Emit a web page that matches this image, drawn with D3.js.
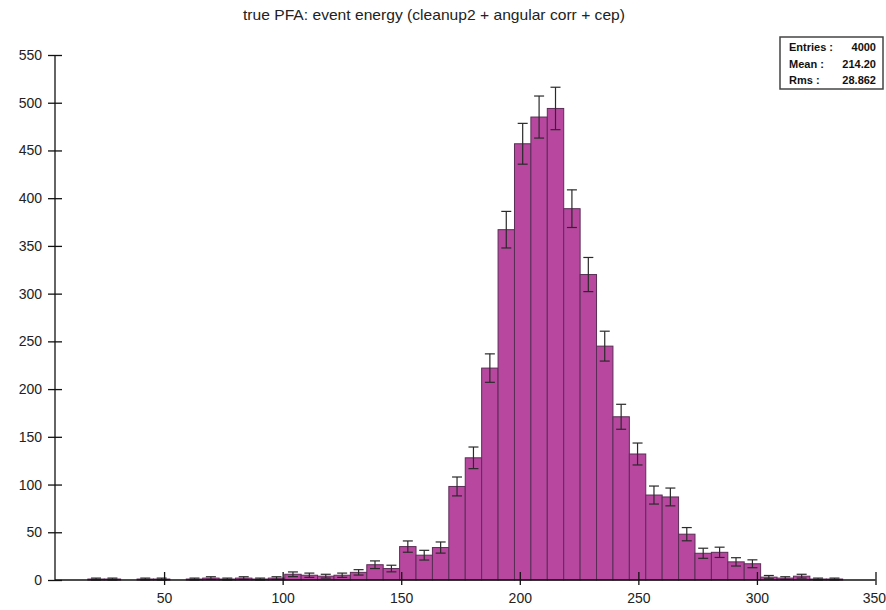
<!DOCTYPE html>
<html>
<head>
<meta charset="utf-8">
<script src="https://cdn.jsdelivr.net/npm/d3@7"></script>
<style>
  body { margin: 0; background: #fff; }
  svg { font-family: "Liberation Sans", Arial, sans-serif; }
</style>
</head>
<body>
<div id="chart"></div>
<script>
// histogram definition
const histMin = 4;
const histMax = 350;
const counts = [
  0, 0, 1, 1, 0, 1, 1, 0, 1, 2,
  1, 2, 1, 2, 6, 5, 4, 5, 8, 16,
  12, 35, 26, 34, 98, 128, 222, 367, 457, 485,
  494, 389, 320, 245, 171, 132, 89, 87, 48, 28,
  29, 19, 17, 3, 2, 4, 1, 1, 0, 0
];
const xTicks = [50, 100, 150, 200, 250, 300, 350];
const yTicks = [0, 50, 100, 150, 200, 250, 300, 350, 400, 450, 500, 550];
const statLabels = ["Entries :", "Mean :", "Rms :"];
const statValues = ["4000", "214.20", "28.862"];
const title = "true PFA: event energy (cleanup2 + angular corr + cep)";

const width = 886, height = 610;
const svg = d3.select("#chart").append("svg")
    .attr("width", width)
    .attr("height", height);

const x = d3.scaleLinear().domain([histMin, histMax]).range([55, 875.5]);
const y = d3.scaleLinear().domain([0, 550]).range([580, 55]);

const binWidth = (histMax - histMin) / counts.length;
const bins = counts.map((c, i) => ({
    x0: histMin + i * binWidth,
    x1: histMin + (i + 1) * binWidth,
    n: c
}));

// title
svg.append("text")
    .attr("x", 434)
    .attr("y", 20)
    .attr("text-anchor", "middle")
    .attr("font-size", 15)
    .attr("fill", "#222")
    .attr("textLength", 382)
    .attr("lengthAdjust", "spacingAndGlyphs")
    .text(title);

// bars
svg.append("g").selectAll("rect")
    .data(bins.filter(d => d.n > 0))
    .join("rect")
    .attr("x", d => x(d.x0))
    .attr("y", d => y(d.n))
    .attr("width", d => x(d.x1) - x(d.x0))
    .attr("height", d => y(0) - y(d.n))
    .attr("fill", "#b8489f")
    .attr("stroke", "#5a2d56")
    .attr("stroke-width", 1);

// error bars (sqrt N)
const err = svg.append("g").attr("stroke", "#2a2a2a").attr("stroke-width", 1.2);
bins.filter(d => d.n > 0).forEach(d => {
    const cx = x((d.x0 + d.x1) / 2);
    const e = Math.sqrt(d.n);
    const top = y(d.n + e), bot = y(Math.max(0, d.n - e));
    err.append("line").attr("x1", cx).attr("x2", cx).attr("y1", top).attr("y2", bot);
    err.append("line").attr("x1", cx - 5).attr("x2", cx + 5).attr("y1", top).attr("y2", top);
    err.append("line").attr("x1", cx - 5).attr("x2", cx + 5).attr("y1", bot).attr("y2", bot);
});

// axes
const yAxis = svg.append("g")
    .attr("transform", "translate(55,0)")
    .call(d3.axisLeft(y).tickValues(yTicks).tickSize(7).tickPadding(6));
yAxis.selectAll(".tick line").attr("x1", -7).attr("x2", 7);

const xAxis = svg.append("g")
    .attr("transform", "translate(0,580)")
    .call(d3.axisBottom(x).tickValues(xTicks).tickSize(5).tickPadding(8));
xAxis.selectAll(".tick line").attr("y1", -8).attr("y2", 5);

[yAxis, xAxis].forEach(a => {
    a.select(".domain").attr("stroke", "#111").attr("stroke-width", 1.3);
    a.selectAll(".tick line").attr("stroke", "#111").attr("stroke-width", 1.3);
    a.selectAll(".tick text").attr("font-size", 14).attr("fill", "#222")
        .attr("font-family", "\"Liberation Sans\", Arial, sans-serif");
});
// keep the last label inside the window
xAxis.selectAll(".tick text").filter(d => d === 350)
    .attr("text-anchor", "end").attr("x", 10);
xAxis.select(".domain").attr("d", "M55,0H875.5");
yAxis.select(".domain").attr("d", "M0,580V55");

// stats box
const box = svg.append("g");
box.append("rect")
    .attr("x", 780).attr("y", 37)
    .attr("width", 103).attr("height", 52)
    .attr("fill", "#fff")
    .attr("stroke", "#444")
    .attr("stroke-width", 1.5);
statLabels.forEach((lab, i) => {
    box.append("text")
        .attr("x", 789).attr("y", 51 + i * 16.5)
        .attr("font-size", 11).attr("font-weight", "bold").attr("fill", "#111")
        .text(lab);
    box.append("text")
        .attr("x", 876).attr("y", 51 + i * 16.5)
        .attr("text-anchor", "end")
        .attr("font-size", 11).attr("font-weight", "bold").attr("fill", "#111")
        .text(statValues[i]);
});
</script>
</body>
</html>
